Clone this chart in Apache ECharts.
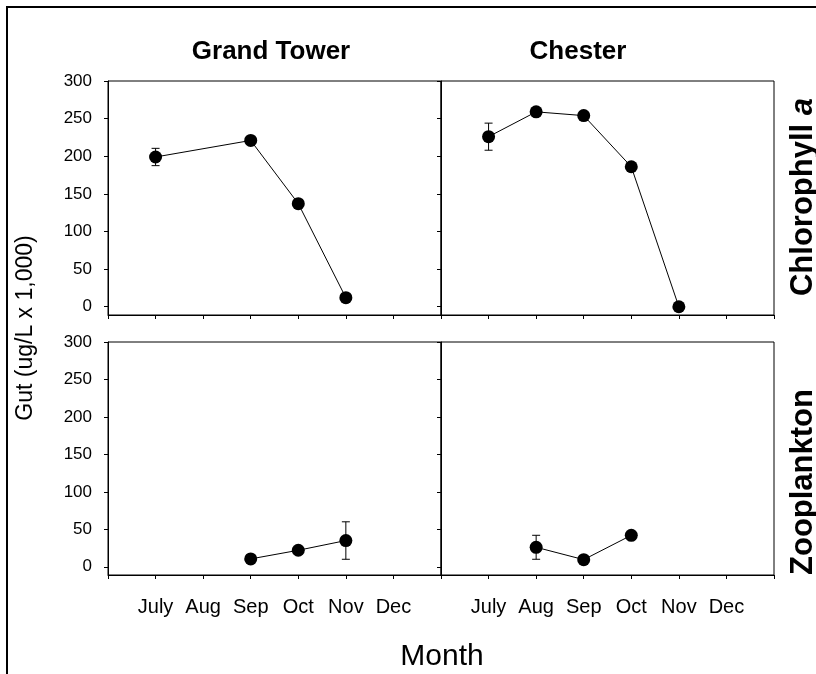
<!DOCTYPE html>
<html>
<head>
<meta charset="utf-8">
<script src="https://cdn.jsdelivr.net/npm/echarts@6/dist/echarts.min.js"></script>
<style>
html,body{margin:0;padding:0;background:#fff;}
#chart{width:816px;height:674px;}
</style>
</head>
<body>
<div id="chart"></div>
<script>
// ---- data ----
const monthCategories = ['', 'July', 'Aug', 'Sep', 'Oct', 'Nov', 'Dec', ''];
const yTickValues = [0, 50, 100, 150, 200, 250, 300];

const gtChlMonths = ['July', 'Sep', 'Oct', 'Nov'];
const gtChlValues = [199, 221, 137, 12];
const gtChlErr = [11.5, 0, 0, 0];

const chChlMonths = ['July', 'Aug', 'Sep', 'Oct', 'Nov'];
const chChlValues = [226, 259, 254, 186, 0];
const chChlErr = [18, 0, 0, 0, 0];

const gtZooMonths = ['Sep', 'Oct', 'Nov'];
const gtZooValues = [10.5, 22, 35];
const gtZooErr = [0, 0, 25];

const chZooMonths = ['Aug', 'Sep', 'Oct'];
const chZooValues = [26, 9.5, 42];
const chZooErr = [16, 0, 0];

const siteTitles = ['Grand Tower', 'Chester'];
const yAxisTitle = 'Gut (ug/L x 1,000)';
const xAxisTitle = 'Month';

// ---- layout ----
const FONT = 'Liberation Sans, Arial, sans-serif';
const panels = [
  {left: 108, top: 81, width: 333, height: 234, yLabels: true, xLabels: false, months: gtChlMonths, values: gtChlValues, err: gtChlErr},
  {left: 441, top: 81, width: 333, height: 234, yLabels: false, xLabels: false, months: chChlMonths, values: chChlValues, err: chChlErr},
  {left: 108, top: 342, width: 333, height: 233, yLabels: true, xLabels: true, months: gtZooMonths, values: gtZooValues, err: gtZooErr},
  {left: 441, top: 342, width: 333, height: 233, yLabels: false, xLabels: true, months: chZooMonths, values: chZooValues, err: chZooErr}
];

const grid = [], xAxis = [], yAxis = [], series = [];
panels.forEach((p, i) => {
  grid.push({left: p.left, top: p.top, width: p.width, height: p.height, show: true,
    borderColor: '#000', borderWidth: 1, backgroundColor: 'transparent'});
  xAxis.push({
    type: 'category', gridIndex: i, data: monthCategories, boundaryGap: false,
    axisLine: {show: true, onZero: false, lineStyle: {color: '#000', width: 1}},
    axisTick: {show: true, inside: false, length: 4, interval: 0, lineStyle: {color: '#000'}},
    axisLabel: {show: p.xLabels, interval: 0, color: '#000', fontSize: 20, fontFamily: FONT, margin: 22},
    splitLine: {show: false}
  });
  yAxis.push({
    type: 'value', gridIndex: i, min: -11, max: 300,
    axisLine: {show: true, onZero: false, lineStyle: {color: '#000', width: 1}},
    axisTick: {show: true, inside: false, length: 4, customValues: yTickValues, lineStyle: {color: '#000'}},
    axisLabel: {show: p.yLabels, customValues: yTickValues, color: '#000', fontSize: 17, fontFamily: FONT, margin: 16},
    splitLine: {show: false}
  });
  const errData = p.months.map((m, k) => [m, p.values[k], p.err[k]]).filter(d => d[2] > 0);
  series.push({
    type: 'custom', xAxisIndex: i, yAxisIndex: i, z: 1, silent: true,
    data: errData,
    renderItem: function (params, api) {
      const x = api.value(0), v = api.value(1), e = api.value(2);
      const hi = api.coord([x, v + e]);
      const lo = api.coord([x, v - e]);
      const cw = 4;
      return {type: 'group', children: [
        {type: 'line', shape: {x1: hi[0], y1: hi[1], x2: lo[0], y2: lo[1]}, style: {stroke: '#000', lineWidth: 1}},
        {type: 'line', shape: {x1: hi[0] - cw, y1: hi[1], x2: hi[0] + cw, y2: hi[1]}, style: {stroke: '#000', lineWidth: 1}},
        {type: 'line', shape: {x1: lo[0] - cw, y1: lo[1], x2: lo[0] + cw, y2: lo[1]}, style: {stroke: '#000', lineWidth: 1}}
      ]};
    }
  });
  series.push({
    type: 'line', xAxisIndex: i, yAxisIndex: i, z: 2,
    data: p.months.map((m, k) => [m, p.values[k]]),
    symbol: 'circle', symbolSize: 13,
    itemStyle: {color: '#000', borderWidth: 0},
    lineStyle: {color: '#000', width: 1},
    animation: false
  });
});

const graphic = [
  {type: 'rect', shape: {x: 7, y: 7, width: 900, height: 800}, style: {fill: 'none', stroke: '#000', lineWidth: 2}, z: -1},
  {type: 'text', x: 271, y: 52, style: {text: siteTitles[0], font: 'bold 26px ' + FONT, fill: '#000', textAlign: 'center', textVerticalAlign: 'middle'}},
  {type: 'text', x: 578, y: 52, style: {text: siteTitles[1], font: 'bold 26px ' + FONT, fill: '#000', textAlign: 'center', textVerticalAlign: 'middle'}},
  {type: 'text', x: 442, y: 657, style: {text: xAxisTitle, font: '30px ' + FONT, fill: '#000', textAlign: 'center', textVerticalAlign: 'middle'}},
  {type: 'text', x: 26, y: 328, rotation: Math.PI / 2, style: {text: yAxisTitle, font: '23px ' + FONT, fill: '#000', textAlign: 'center', textVerticalAlign: 'middle'}},
  {type: 'text', x: 803, y: 197, rotation: Math.PI / 2, style: {
    text: '{b|Chlorophyll }{i|a}', textAlign: 'center', textVerticalAlign: 'middle',
    rich: {b: {font: 'bold 31px ' + FONT, fill: '#000'}, i: {font: 'italic bold 31px ' + FONT, fill: '#000'}}}},
  {type: 'text', x: 803, y: 482, rotation: Math.PI / 2, style: {text: 'Zooplankton', font: 'bold 31px ' + FONT, fill: '#000', textAlign: 'center', textVerticalAlign: 'middle'}}
];

const chart = echarts.init(document.getElementById('chart'), null, {renderer: 'canvas'});
chart.setOption({
  animation: false,
  backgroundColor: '#fff',
  grid, xAxis, yAxis, series, graphic
});
</script>
</body>
</html>
